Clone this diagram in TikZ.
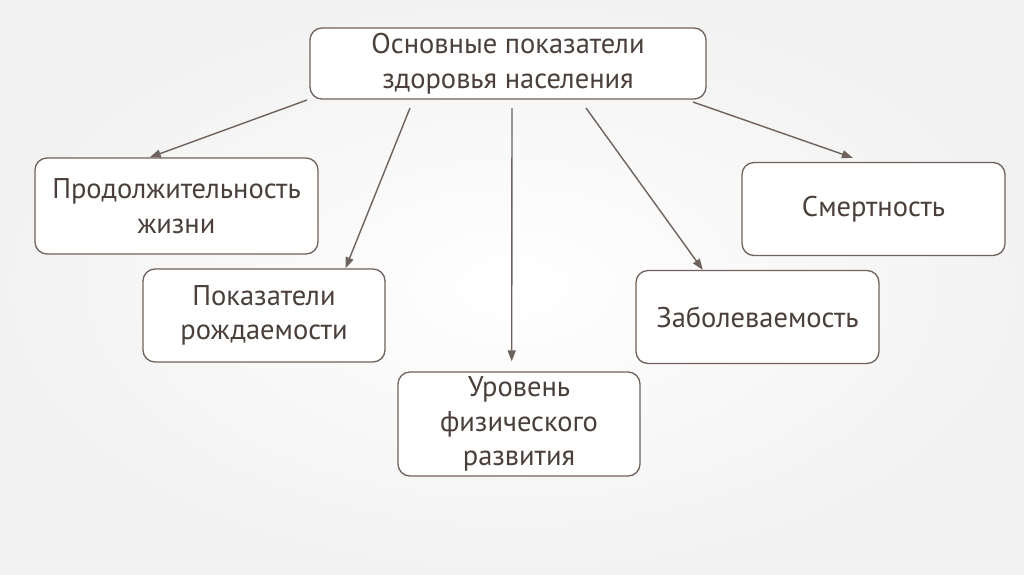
\documentclass[tikz,border=0pt]{standalone}
\usepackage{fontspec}
\setmainfont{PT Sans}
\usetikzlibrary{arrows.meta,calc}
\definecolor{edge}{HTML}{6F625C}
\definecolor{txt}{HTML}{4A3F3B}
\begin{document}
\begin{tikzpicture}[x=1pt,y=-1pt,
  box/.style={draw=edge,line width=1.3pt,rounded corners=12pt,fill=white,
    text=txt,font=\fontsize{28.5}{34.5}\selectfont,align=center,inner sep=0pt},
  arr/.style={draw=edge,line width=1.4pt,-{Triangle[length=11pt,width=8pt]}}]
\shade[inner color=white,outer color=black!5] (0,0) rectangle (1024,574);
\useasboundingbox (0,0) rectangle (1024,574);
\node[box,minimum width=396pt,minimum height=71pt] (top) at (508,63.5) {Основные показатели\\здоровья населения};
\node[box,minimum width=283pt,minimum height=96pt] (life) at (176.5,206) {Продолжительность\\жизни};
\node[box,minimum width=242pt,minimum height=93pt] (birth) at (264,315.5) {Показатели\\рождаемости};
\node[box,minimum width=242pt,minimum height=104pt] (phys) at (519,424) {Уровень\\физического\\развития};
\node[box,minimum width=243pt,minimum height=93pt] (morb) at (757.5,317) {Заболеваемость};
\node[box,minimum width=263pt,minimum height=93pt] (mort) at (873.5,209) {Смертность};
\coordinate (s1) at (307,100);
\coordinate (s2) at (410,108);
\coordinate (s3) at (512,108);
\coordinate (s4) at (586,108);
\coordinate (s5) at (693,102);
\draw[arr] (s1) -- ($(life.north west)!0.406!(life.north east)$);
\draw[arr] (s2) -- ($(birth.north west)!0.835!(birth.north east)$);
\draw[arr] (s3) -- ($(phys.north west)!0.47!(phys.north east)+(0,-10)$);
\draw[arr] (s4) -- ($(morb.north west)!0.276!(morb.north east)$);
\draw[arr] (s5) -- ($(mort.north west)!0.422!(mort.north east)+(0,-4)$);
\end{tikzpicture}
\end{document}
